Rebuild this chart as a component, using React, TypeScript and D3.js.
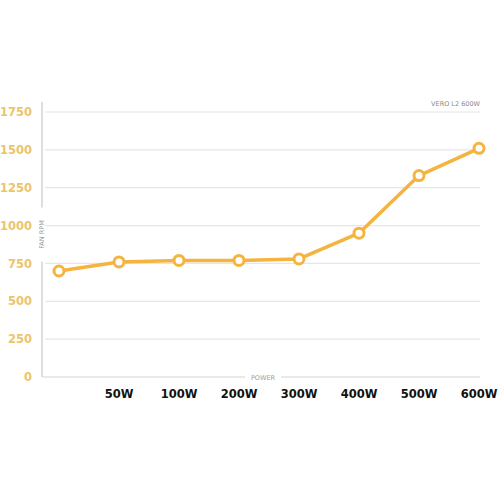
import React from "react";
import * as d3 from "d3";

const categories = ["", "50W", "100W", "200W", "300W", "400W", "500W", "600W"];
const fanRpm = [700, 760, 770, 770, 780, 950, 1330, 1510];
const yTicks = [0, 250, 500, 750, 1000, 1250, 1500, 1750];
const title = "VERO L2 600W";
const xTitle = "POWER";
const yTitle = "FAN RPM";

export default function App() {
  const W = 500, H = 500;
  const axisX = 42;
  const plotRight = 480;
  const x = d3.scalePoint<string>().domain(categories).range([59, 479]);
  const y = d3.scaleLinear().domain([0, 1750]).range([377, 112]);
  const line = d3
    .line<number>()
    .x((_, i) => x(categories[i]) as number)
    .y((d) => y(d));
  const font = "'DejaVu Sans', sans-serif";
  const midY = (y(1750) - 10 + y(0)) / 2;
  const midX = (axisX + plotRight) / 2 + 2;
  return (
    <svg width={W} height={H} style={{ position: "absolute", left: 0, top: 0 }}>
      <rect width={W} height={H} fill="#fff" />
      {yTicks.slice(1).map((t) => (
        <line key={t} x1={axisX + 3} x2={plotRight} y1={y(t)} y2={y(t)} stroke="#e6e6e6" strokeWidth={1.2} />
      ))}
      {/* y axis line with gap for title */}
      <line x1={axisX} x2={axisX} y1={y(1750) - 10} y2={midY - 32} stroke="#bdbdbd" strokeWidth={1} />
      <line x1={axisX} x2={axisX} y1={midY + 22} y2={y(0)} stroke="#bdbdbd" strokeWidth={1} />
      <text
        transform={`translate(${axisX + 2},${midY - 5}) rotate(-90)`}
        textAnchor="middle"
        fontFamily={font}
        fontSize={6.5}
        fill="#9a9a9a"
      >
        {yTitle}
      </text>
      {/* x axis line with gap */}
      <line x1={axisX} x2={midX - 18} y1={y(0)} y2={y(0)} stroke="#d4d4d4" strokeWidth={1.2} />
      <line x1={midX + 18} x2={plotRight} y1={y(0)} y2={y(0)} stroke="#d4d4d4" strokeWidth={1.2} />
      <text x={midX} y={y(0) + 2.5} textAnchor="middle" fontFamily={font} fontSize={6.5} fill="#a0a0a0">
        {xTitle}
      </text>
      <text x={plotRight} y={y(1750) - 6} textAnchor="end" fontFamily={font} fontSize={6.5} fill="#8a8a8a">
        {title}
      </text>
      {yTicks.map((t) => (
        <text
          key={t}
          x={32}
          y={y(t)}
          dy="0.36em"
          textAnchor="end"
          fontFamily={font}
          fontWeight="bold"
          fontSize={11.5}
          fill="#ecc469"
        >
          {t}
        </text>
      ))}
      {categories.map((c) =>
        c ? (
          <text
            key={c}
            x={x(c)}
            y={398}
            textAnchor="middle"
            fontFamily={font}
            fontWeight="bold"
            fontSize={11.5}
            fill="#111"
          >
            {c}
          </text>
        ) : null
      )}
      <path d={line(fanRpm) || ""} fill="none" stroke="#f4b43f" strokeWidth={3.5} strokeLinejoin="round" />
      {fanRpm.map((v, i) => (
        <circle key={i} cx={x(categories[i])} cy={y(v)} r={5} fill="#fff" stroke="#f4b43f" strokeWidth={3} />
      ))}
    </svg>
  );
}
